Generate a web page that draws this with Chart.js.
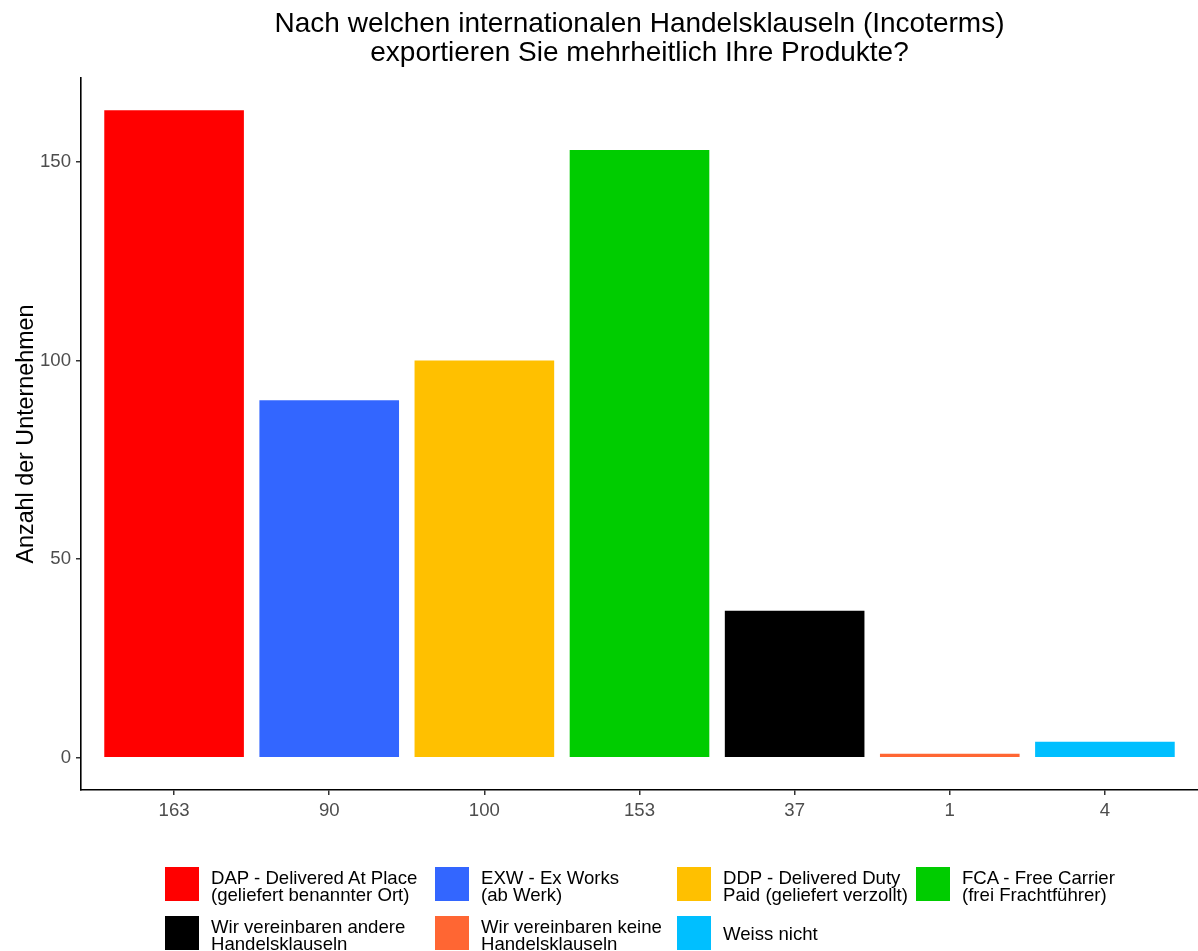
<!DOCTYPE html>
<html>
<head>
<meta charset="utf-8">
<script src="https://cdn.jsdelivr.net/npm/chart.js@4"></script>
<style>
  html, body { margin: 0; padding: 0; background: #fff; }
  #wrap { position: relative; width: 1198px; height: 951px; overflow: hidden; font-family: "Liberation Sans", Arial, sans-serif; }
  canvas { position: absolute; left: 0; top: 0; }
  #legend { position: absolute; left: 165px; top: 867px; display: grid;
    grid-template-columns: 270px 242px 239px auto; row-gap: 15px; }
  .item { display: flex; align-items: center; height: 34px; }
  .sw { width: 34px; height: 34px; flex: none; margin-right: 12px; }
  .tx { font-size: 18.6px; line-height: 17px; padding-top: 3px; color: #000; white-space: nowrap; }
</style>
</head>
<body>
<div id="wrap">
  <canvas id="c" width="1198" height="951"></canvas>
  <div id="legend"></div>
</div>
<script>
const categories = [
  ["DAP - Delivered At Place", "(geliefert benannter Ort)"],
  ["EXW - Ex Works", "(ab Werk)"],
  ["DDP - Delivered Duty", "Paid (geliefert verzollt)"],
  ["FCA - Free Carrier", "(frei Frachtführer)"],
  ["Wir vereinbaren andere", "Handelsklauseln"],
  ["Wir vereinbaren keine", "Handelsklauseln"],
  ["Weiss nicht"]
];
const values = [163, 90, 100, 153, 37, 1, 4];
const xTickLabels = ["163", "90", "100", "153", "37", "1", "4"];
const yTicks = [0, 50, 100, 150];
const colors = ["#FF0000", "#3366FF", "#FFC000", "#00CC00", "#000000", "#FF6633", "#00BFFF"];
const titleLines = ["Nach welchen internationalen Handelsklauseln (Incoterms)", "exportieren Sie mehrheitlich Ihre Produkte?"];
const yTitle = "Anzahl der Unternehmen";

// legend (HTML)
const leg = document.getElementById('legend');
categories.forEach((c, i) => {
  const it = document.createElement('div'); it.className = 'item';
  const sw = document.createElement('div'); sw.className = 'sw'; sw.style.background = colors[i];
  const tx = document.createElement('div'); tx.className = 'tx'; tx.innerHTML = c.join('<br>');
  if (c.length === 1) tx.style.paddingTop = '1px';
  it.appendChild(sw); it.appendChild(tx); leg.appendChild(it);
});

const FONT = '"Liberation Sans", Arial, sans-serif';

const textPlugin = {
  id: 'panelTexts',
  afterDraw(chart) {
    const ctx = chart.ctx, a = chart.chartArea;
    ctx.save();
    ctx.fillStyle = '#000';
    ctx.font = '28px ' + FONT;
    ctx.textAlign = 'center';
    ctx.textBaseline = 'alphabetic';
    const cx = (a.left + a.right) / 2;
    ctx.fillText(titleLines[0], cx, 32);
    ctx.fillText(titleLines[1], cx, 61);
    ctx.restore();

    ctx.save();
    ctx.fillStyle = '#000';
    ctx.font = '23.3px ' + FONT;
    ctx.textAlign = 'center';
    ctx.textBaseline = 'alphabetic';
    ctx.translate(33, (a.top + a.bottom) / 2);
    ctx.rotate(-Math.PI / 2);
    ctx.fillText(yTitle, 0, 0);
    ctx.restore();
  }
};

new Chart(document.getElementById('c'), {
  type: 'bar',
  data: {
    datasets: [{
      data: values.map((v, i) => ({ x: i, y: v })),
      backgroundColor: colors,
      borderWidth: 0,
      barPercentage: 0.9,
      categoryPercentage: 1.0
    }]
  },
  options: {
    responsive: false,
    animation: false,
    layout: { padding: { top: 78, left: 0, right: 0, bottom: 0 } },
    plugins: { legend: { display: false }, tooltip: { enabled: false }, title: { display: false } },
    scales: {
      x: {
        type: 'linear',
        min: -0.6, max: 6.6,
        offset: false,
        afterBuildTicks: s => { s.ticks = xTickLabels.map((_, i) => ({ value: i })); },
        afterFit: s => { s.height = 161; },
        ticks: { callback: (v) => xTickLabels[v], color: '#4D4D4D', font: { family: FONT, size: 18.6 }, padding: 5, maxRotation: 0, autoSkip: false },
        grid: { display: true, offset: false, drawOnChartArea: false, drawTicks: true, tickLength: 5, color: '#333', lineWidth: 1.5 },
        border: { display: true, color: '#000', width: 1.6 }
      },
      y: {
        min: -8.15, max: 171.15,
        afterBuildTicks: s => { s.ticks = yTicks.map(v => ({ value: v })); },
        afterFit: s => { s.width = 81; },
        ticks: { color: '#4D4D4D', font: { family: FONT, size: 18.6 }, padding: 5 },
        grid: { display: true, offset: false, drawOnChartArea: false, drawTicks: true, tickLength: 5, color: '#333', lineWidth: 1.5 },
        border: { display: true, color: '#000', width: 1.6 },
        title: { display: false }
      }
    }
  },
  plugins: [textPlugin]
});
</script>
</body>
</html>
